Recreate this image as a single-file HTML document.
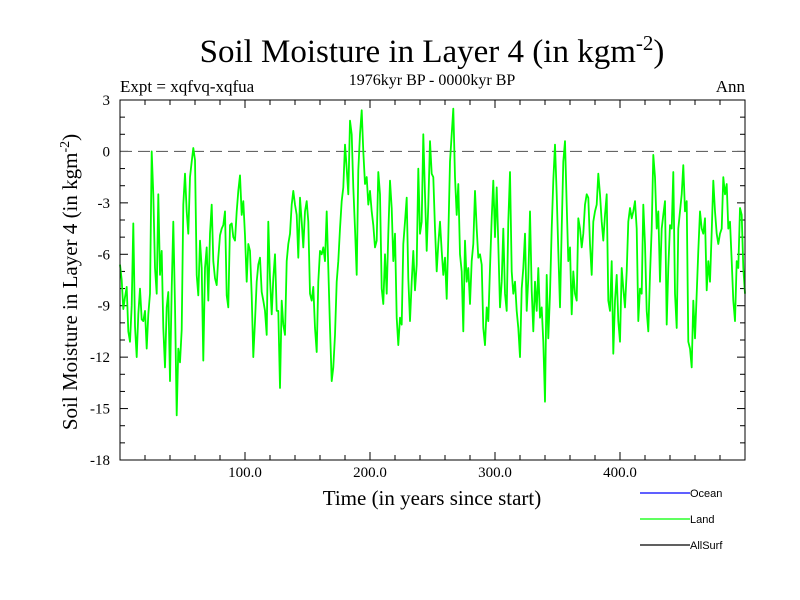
<!DOCTYPE html>
<html><head><meta charset="utf-8"><style>
body{margin:0;background:#fff;}
svg{display:block;}
text{font-family:"Liberation Serif",serif;}
.sans{font-family:"Liberation Sans",sans-serif;}
</style></head><body>
<svg id="chart" width="800" height="600" xmlns="http://www.w3.org/2000/svg">
<rect width="800" height="600" fill="#fff"/>
<text x="432" y="62" font-size="33" text-anchor="middle">Soil Moisture in Layer 4 (in kgm<tspan dy="-12" font-size="21">-2</tspan><tspan dy="12">)</tspan></text>
<text x="432" y="85" font-size="16" text-anchor="middle">1976kyr BP - 0000kyr BP</text>
<text x="120" y="92" font-size="17">Expt = xqfvq-xqfua</text>
<text x="745" y="92" font-size="17" text-anchor="end">Ann</text>
<text transform="translate(77,282) rotate(-90)" font-size="21" text-anchor="middle">Soil Moisture in Layer 4 (in kgm<tspan dy="-8" font-size="14">-2</tspan><tspan dy="8">)</tspan></text>
<text x="432" y="505" font-size="21" text-anchor="middle">Time (in years since start)</text>
<g id="ticks"></g>
<g id="plot"></g>
<rect x="120" y="100" width="625" height="360" fill="none" stroke="#000" stroke-width="1"/>
<g>
<line x1="640" y1="493" x2="690" y2="493" stroke="#0000ff" stroke-width="1.2"/>
<text class="sans" x="690" y="497" font-size="11">Ocean</text>
<line x1="640" y1="519" x2="690" y2="519" stroke="#00ff00" stroke-width="1.2"/>
<text class="sans" x="690" y="523" font-size="11">Land</text>
<line x1="640" y1="545" x2="690" y2="545" stroke="#000" stroke-width="1.2"/>
<text class="sans" x="690" y="549" font-size="11">AllSurf</text>
</g>
</svg>
<script>
const xTickValues=[100,200,300,400];
const xTickLabels=["100.0","200.0","300.0","400.0"];
const yTickValues=[3,0,-3,-6,-9,-12,-15,-18];
const yTickLabels=["3","0","-3","-6","-9","-12","-15","-18"];
const yearStep=4/3;
const landValues=[
-6.6,-7.5,-9.2,-8.5,-7.9,-10.5,-11.1,-9,-4.2,-10.2,-12,-9.5,-8,-9.8,-9.9,-9.3,-11.5,-9.5,-8.3,0,-2.5,-6.8,-8.3,-2.5,-7.2,-5.8,-10.3,-12.6,-9.1,-8.2,-13.4,-8,-4.1,-9,-15.4,-11.5,-12.3,-10.4,-3.1,-1.3,-3.5,-4.8,-1.5,-0.6,0.2,-0.5,-7.2,-8.4,-5.2,-6.8,-12.2,-6.8,-5.6,-8.7,-4.8,-3.1,-6.4,-7.4,-7.8,-6.2,-4.9,-4.5,-4.3,-3.5,-8.4,-9.1,-4.3,-4.2,-5.0,-5.2,-3.5,-2.3,-1.4,-3.7,-2.9,-4.9,-7.6,-5.4,-5.8,-8.4,-12,-9.9,-7.6,-6.6,-6.2,-8.2,-8.7,-9.3,-10.7,-4.1,-7.4,-9.5,-7.4,-6.0,-9.3,
-9.3,-13.8,-8.7,-10.1,-10.7,-6.4,-5.4,-4.8,-3.1,-2.3,-3.1,-3.7,-6.2,-2.7,-4.1,-5.6,-3.5,-2.9,-4.1,-8.3,-8.7,-7.9,-10.3,-11.7,-7.6,-5.8,-6,-5.6,-6.4,-3.5,-6.8,-10.3,-13.4,-12.6,-10.7,-7.6,-6.4,-4.5,-2.9,-2.1,0.4,-1,-2.5,1.8,1,-2.1,-4.5,-7.2,-1.1,1,2.4,0,-1.9,-1.5,-3.1,-2.3,-3.5,-4.3,-5.6,-5.2,-1.2,-2.5,-8,-8.9,-6,-8.3,-4.8,-1.7,-3.3,-6.4,-4.8,-9.7,-11.3,-9.7,-10.1,-5.4,-4.1,-2.7,-7.4,-9.9,-7.6,-5.8,-8.1,-6.6,-1,-4.8,-4.1,1,-2.5,-5.8,-3.1,0.6,-1.3,
-1.5,-4.5,-7,-5.4,-4.1,-5.8,-7.2,-6.2,-8.6,-5,-0.6,1,2.5,-1.5,-3.7,-1.9,-6,-7,-10.5,-5.2,-7.6,-6.8,-8.9,-6.4,-5.4,-2.3,-4.5,-6.2,-6,-6.6,-10.3,-11.3,-9.1,-9.9,-6.8,-3.9,-1.7,-5,-2.1,-5.4,-9.1,-7.6,-4.5,-8.3,-9.3,-4.1,-1.2,-7,-8.3,-7.6,-9.3,-10.3,-12,-8,-6.8,-4.8,-9.3,-7.4,-3.5,-8.1,-10.5,-7.6,-9.3,-6.8,-9.7,-9.1,-11.1,-14.6,-7.2,-10.9,-8.3,-4.5,-1.7,0.4,-2.5,-5.8,-9.1,-4.5,-0.6,0.6,-3.1,-6.4,-5.6,-9.5,-7,-8.3,-8.7,-3.9,-4.5,-5.6,-4.8,-3.1,-2.5,
-2.7,-5.4,-7.2,-4.1,-3.5,-3.1,-1.3,-2.5,-4.1,-5.2,-3.7,-2.5,-8.7,-9.3,-6.4,-11.8,-8.7,-7.2,-9.9,-11.1,-6.8,-8,-9.1,-7,-4.1,-3.3,-3.9,-3.5,-2.9,-4.5,-9.9,-8,-8.3,-3.1,-5.4,-9.3,-10.5,-7.2,-4.5,-0.2,-1.5,-4.5,-3.5,-7.6,-4.5,-3.7,-2.9,-10.1,-6.8,-4.3,-4.5,-1.2,-8.3,-10.3,-4.5,-3.5,-2.5,-0.8,-3.5,-2.9,-11.1,-11.5,-12.6,-8.7,-10.9,-8.3,-5.8,-3.5,-4.5,-4.8,-3.9,-8.1,-6.4,-7.6,-4.7,-1.7,-3.5,-4.8,-5.4,-4.8,-4.5,-1.5,-2.5,-1.9,-4.5,-4.1,-6.4,-8.7,-9.9,-6.4,-6.8,-3.3,-3.7,-6.8,-8.3
];
const X0=120,X1=745,Y0=100,Y1=460;
const xMin=0,xMax=500,yMin=-18,yMax=3;
const NS='http://www.w3.org/2000/svg';
function xs(v){return X0+(v-xMin)/(xMax-xMin)*(X1-X0);}
function ys(v){return Y1-(v-yMin)/(yMax-yMin)*(Y1-Y0);}
function mk(tag,attrs,parent){const e=document.createElementNS(NS,tag);for(const k in attrs)e.setAttribute(k,attrs[k]);parent.appendChild(e);return e;}
const ticks=document.getElementById('ticks');
const plot=document.getElementById('plot');
for(let v=yMin;v<=yMax;v++){
  const major=(v%3===0);const len=major?8:5;
  const l1=mk('line',{x1:X0,x2:X0+len,y1:ys(v),y2:ys(v),stroke:'#000','stroke-width':1},ticks);
  
  
  const l2=mk('line',{x1:X1,x2:X1-len,y1:ys(v),y2:ys(v),stroke:'#000','stroke-width':1},ticks);
  
  
}
for(let v=20;v<xMax;v+=20){
  const major=(v%100===0);const len=major?8:5;
  const b=mk('line',{x1:xs(v),x2:xs(v),y1:Y1,y2:Y1-len,stroke:'#000','stroke-width':1},ticks);
  
  
  const t=mk('line',{x1:xs(v),x2:xs(v),y1:Y0,y2:Y0+len,stroke:'#000','stroke-width':1},ticks);
  
  
}
yTickValues.forEach((v,i)=>{
  const t=mk('text',{x:110,y:ys(v)+5,'font-size':15,'text-anchor':'end'},ticks);
  t.textContent=yTickLabels[i];
  
  
});
xTickValues.forEach((v,i)=>{
  const t=mk('text',{x:xs(v),y:477,'font-size':15,'text-anchor':'middle'},ticks);
  t.textContent=xTickLabels[i];
  
  
});
const zl=mk('line',{x1:X0,x2:X1,y1:ys(0),y2:ys(0),stroke:'#666','stroke-width':1.2,'stroke-dasharray':'12,6'},plot);


const pts=landValues.map((v,i)=>xs(i*yearStep).toFixed(1)+','+ys(v).toFixed(1)).join(' ');
const pl=mk('polyline',{points:pts,fill:'none',stroke:'#00ff00','stroke-width':1.8,'stroke-linejoin':'round'},plot);


</script>
</body></html>
